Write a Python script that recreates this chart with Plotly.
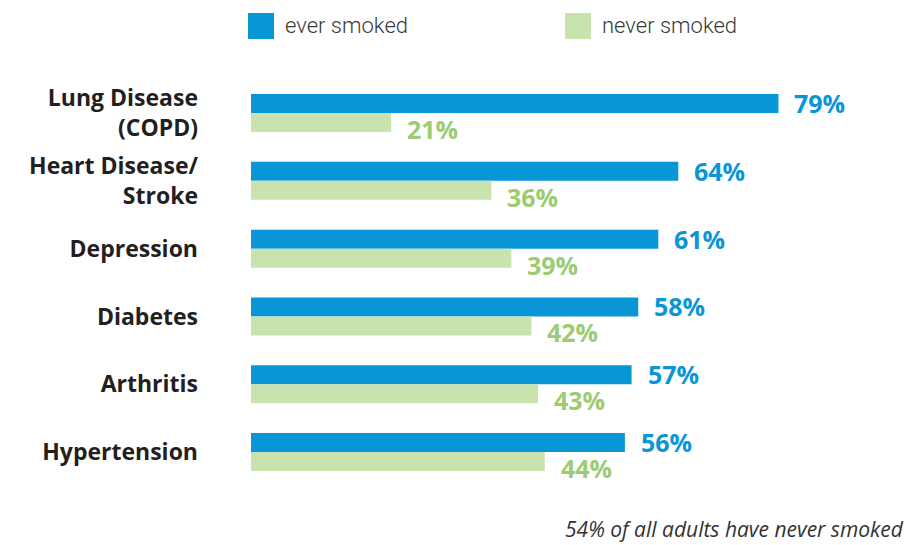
import plotly.graph_objects as go

categories = ["Lung Disease<br>(COPD)", "Heart Disease/<br>Stroke", "Depression",
              "Diabetes", "Arthritis", "Hypertension"]
ever_smoked = [79, 64, 61, 58, 57, 56]
never_smoked = [21, 36, 39, 42, 43, 44]
series_names = ["ever smoked", "never smoked"]
footnote = "54% of all adults have never smoked"

BLUE = "#0896D7"
GREEN = "#C9E3AE"
GREEN_TXT = "#9CCB72"
DARK = "#231F20"

# the page body has an 8px margin, so the figure is drawn at (8, 8)
OFF = 8
W, H = 912 - OFF, 545 - OFF
ML = 251 - OFF
MT = 78 - OFF
MB = H - (486 - OFF)
MR = 0
PW, PH = W - ML - MR, H - MT - MB


def xp(px):  # reference pixel -> paper x
    return (px - OFF - ML) / PW


def yp(py):  # reference pixel -> paper y
    return 1 - (py - OFF - MT) / PH


fig = go.Figure()
fig.add_trace(go.Bar(y=categories, x=ever_smoked, orientation="h", name=series_names[0],
                     marker=dict(color=BLUE, line=dict(width=0)), showlegend=False))
fig.add_trace(go.Bar(y=categories, x=never_smoked, orientation="h", name=series_names[1],
                     marker=dict(color=GREEN, line=dict(width=0)), showlegend=False))

annotations = []
for c, v in zip(categories, ever_smoked):
    annotations.append(dict(x=v, y=c, xref="x", yref="y", text=f"<b>{v}%</b>", showarrow=False,
                            xanchor="left", yanchor="middle", xshift=14, yshift=10,
                            font=dict(family="Open Sans", size=25, color=BLUE)))
for c, v in zip(categories, never_smoked):
    annotations.append(dict(x=v, y=c, xref="x", yref="y", text=f"<b>{v}%</b>", showarrow=False,
                            xanchor="left", yanchor="middle", xshift=14, yshift=-16,
                            font=dict(family="Open Sans", size=25, color=GREEN_TXT)))

# legend
legend_font = dict(family="Roboto", size=22, color="#3A3A3A", weight=300)
annotations.append(dict(x=xp(283), y=yp(25), xref="paper", yref="paper", text=series_names[0],
                        showarrow=False, xanchor="left", yanchor="middle", font=legend_font))
annotations.append(dict(x=xp(600), y=yp(25), xref="paper", yref="paper", text=series_names[1],
                        showarrow=False, xanchor="left", yanchor="middle", font=legend_font))
annotations.append(dict(x=xp(563), y=yp(529), xref="paper", yref="paper", text=f"<i>{footnote}</i>",
                        showarrow=False, xanchor="left", yanchor="middle",
                        font=dict(family="Open Sans", size=21, color="#333333")))

shapes = [
    dict(type="rect", xref="paper", yref="paper", x0=xp(248), x1=xp(274), y0=yp(13), y1=yp(39),
         fillcolor=BLUE, line=dict(width=0)),
    dict(type="rect", xref="paper", yref="paper", x0=xp(565), x1=xp(591), y0=yp(13), y1=yp(39),
         fillcolor=GREEN, line=dict(width=0)),
]

fig.update_layout(
    width=W, height=H,
    margin=dict(l=ML, r=MR, t=MT, b=MB, pad=0),
    paper_bgcolor="white", plot_bgcolor="white",
    barmode="group", bargap=0.44, bargroupgap=0,
    showlegend=False,
    annotations=annotations, shapes=shapes,
    xaxis=dict(range=[0, 99], visible=False, fixedrange=True),
    yaxis=dict(autorange="reversed", showgrid=False, zeroline=False, showline=False,
               ticks="", ticklabelstandoff=52,
               tickfont=dict(family="Open Sans", size=23, color=DARK, weight="bold")),
    font=dict(family="Open Sans"),
)

fig.write_html("out.html")
